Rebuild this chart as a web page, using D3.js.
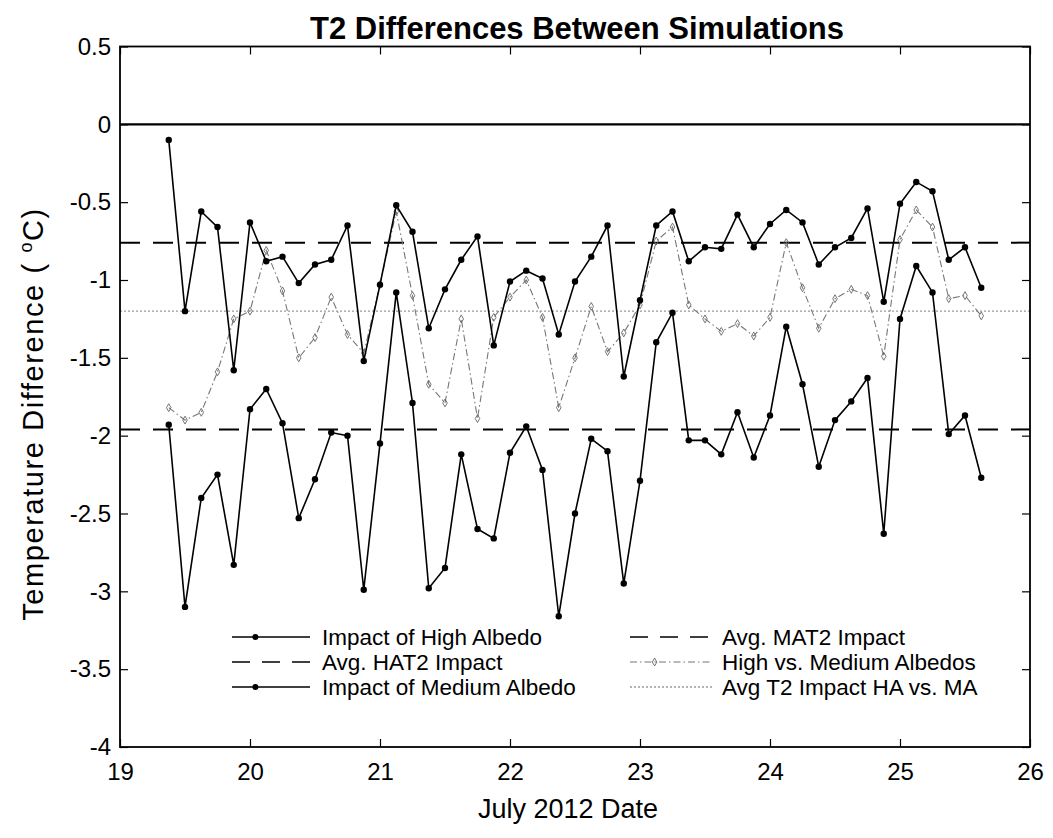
<!DOCTYPE html>
<html>
<head>
<meta charset="utf-8">
<script src="https://cdn.jsdelivr.net/npm/d3@7"></script>
<style>
  body { margin: 0; background: #fff; }
  svg text { font-family: "Liberation Sans", Arial, sans-serif; fill: #000; }
</style>
</head>
<body>
<svg id="chart" width="1053" height="838"></svg>
<script>
// July 2012 dates, 3-hourly steps
var dates = [19.375, 19.5, 19.625, 19.75, 19.875, 20, 20.125, 20.25, 20.375, 20.5,
  20.625, 20.75, 20.875, 21, 21.125, 21.25, 21.375, 21.5, 21.625, 21.75,
  21.875, 22, 22.125, 22.25, 22.375, 22.5, 22.625, 22.75, 22.875, 23,
  23.125, 23.25, 23.375, 23.5, 23.625, 23.75, 23.875, 24, 24.125, 24.25,
  24.375, 24.5, 24.625, 24.75, 24.875, 25, 25.125, 25.25, 25.375, 25.5, 25.625];

var highAlbedo = [-0.10, -1.20, -0.56, -0.66, -1.58, -0.63, -0.88, -0.85, -1.02, -0.90,
  -0.87, -0.65, -1.52, -1.03, -0.52, -0.69, -1.31, -1.06, -0.87, -0.72,
  -1.42, -1.01, -0.94, -0.99, -1.35, -1.01, -0.85, -0.65, -1.62, -1.13,
  -0.65, -0.56, -0.88, -0.79, -0.80, -0.58, -0.79, -0.64, -0.55, -0.63,
  -0.90, -0.79, -0.73, -0.54, -1.14, -0.51, -0.37, -0.43, -0.87, -0.79, -1.05];

var mediumAlbedo = [-1.93, -3.10, -2.40, -2.25, -2.83, -1.83, -1.70, -1.92, -2.53, -2.28,
  -1.98, -2.00, -2.99, -2.05, -1.08, -1.79, -2.98, -2.85, -2.12, -2.60,
  -2.66, -2.11, -1.94, -2.22, -3.16, -2.50, -2.02, -2.10, -2.95, -2.29,
  -1.40, -1.21, -2.03, -2.03, -2.12, -1.85, -2.14, -1.87, -1.30, -1.67,
  -2.20, -1.90, -1.78, -1.63, -2.63, -1.25, -0.91, -1.08, -1.99, -1.87, -2.27];

var highVsMedium = [-1.82, -1.90, -1.85, -1.59, -1.25, -1.20, -0.81, -1.07, -1.50, -1.37,
  -1.11, -1.35, -1.47, -1.03, -0.56, -1.10, -1.67, -1.79, -1.25, -1.89,
  -1.24, -1.11, -1.00, -1.24, -1.82, -1.50, -1.17, -1.46, -1.34, -1.16,
  -0.75, -0.66, -1.16, -1.25, -1.33, -1.28, -1.36, -1.24, -0.76, -1.05,
  -1.31, -1.12, -1.06, -1.10, -1.49, -0.74, -0.55, -0.66, -1.12, -1.10, -1.23];

var avgHAT2 = -0.76;
var avgMAT2 = -1.96;
var avgHAvsMA = -1.20;

var xTicks = [19, 20, 21, 22, 23, 24, 25, 26];
var yTicks = [0.5, 0, -0.5, -1, -1.5, -2, -2.5, -3, -3.5, -4];

var legendLabels = ["Impact of High Albedo", "Avg. HAT2 Impact", "Impact of Medium Albedo",
  "Avg. MAT2 Impact", "High vs. Medium Albedos", "Avg T2 Impact HA vs. MA"];

/********** layout **********/
var plot = { left: 120, right: 1030, top: 46.5, bottom: 747 };

var svg = d3.select("#chart");

var x = d3.scaleLinear().domain([19, 26]).range([plot.left, plot.right]);
var y = d3.scaleLinear().domain([-4, 0.5]).range([plot.bottom, plot.top]);

// line styles
var styles = {
  high:   { stroke: "#000", width: 1.6, dash: null },
  avgH:   { stroke: "#000", width: 2, dash: "20,13" },
  medium: { stroke: "#000", width: 1.6, dash: null },
  avgM:   { stroke: "#000", width: 2, dash: "20,13" },
  diff:   { stroke: "#777", width: 1.1, dash: "7,3,1.5,3" },
  avgD:   { stroke: "#999", width: 1.3, dash: "2,2" }
};

// zero line
svg.append("line")
  .attr("x1", x(19)).attr("x2", x(26))
  .attr("y1", y(0)).attr("y2", y(0))
  .attr("stroke", "#000").attr("stroke-width", 2.2);

// averages
function hline(v, st) {
  svg.append("line")
    .attr("x1", x(19)).attr("x2", x(26))
    .attr("y1", y(v)).attr("y2", y(v))
    .attr("stroke", st.stroke).attr("stroke-width", st.width)
    .attr("stroke-dasharray", st.dash);
}
hline(avgHAvsMA, styles.avgD);
hline(avgHAT2, styles.avgH);
hline(avgMAT2, styles.avgM);

var line = d3.line()
  .x(function(d) { return x(d[0]); })
  .y(function(d) { return y(d[1]); });

function series(vals, st, marker) {
  var pts = dates.map(function(d, i) { return [d, vals[i]]; });
  svg.append("path")
    .datum(pts)
    .attr("d", line)
    .attr("fill", "none")
    .attr("stroke", st.stroke)
    .attr("stroke-width", st.width)
    .attr("stroke-dasharray", st.dash);
  if (marker == "dot") {
    svg.append("g").selectAll("circle")
      .data(pts).enter().append("circle")
      .attr("cx", function(d) { return x(d[0]); })
      .attr("cy", function(d) { return y(d[1]); })
      .attr("r", 3.2)
      .attr("fill", "#000");
  } else {
    svg.append("g").selectAll("path")
      .data(pts).enter().append("path")
      .attr("transform", function(d) { return "translate(" + x(d[0]) + "," + y(d[1]) + ")"; })
      .attr("d", d3.symbol().type(d3.symbolDiamond).size(18))
      .attr("fill", "none")
      .attr("stroke", "#666")
      .attr("stroke-width", 0.9);
  }
}
series(highVsMedium, styles.diff, "diamond");
series(highAlbedo, styles.high, "dot");
series(mediumAlbedo, styles.medium, "dot");

/********** axes **********/
var fontSize = 24;

svg.append("g")
  .attr("transform", "translate(0," + plot.bottom + ")")
  .call(d3.axisBottom(x).tickValues(xTicks).tickSize(-8).tickSizeOuter(0).tickPadding(16)
    .tickFormat(function(d) { return d; }));
svg.append("g")
  .attr("transform", "translate(" + plot.left + ",0)")
  .call(d3.axisLeft(y).tickValues(yTicks).tickSize(-8).tickSizeOuter(0).tickPadding(9)
    .tickFormat(function(d) { return d; }));
svg.append("g")
  .attr("transform", "translate(0," + plot.top + ")")
  .call(d3.axisTop(x).tickValues(xTicks).tickSize(-8).tickSizeOuter(0).tickFormat(""));
svg.append("g")
  .attr("transform", "translate(" + plot.right + ",0)")
  .call(d3.axisRight(y).tickValues(yTicks).tickSize(-8).tickSizeOuter(0).tickFormat(""));

svg.selectAll(".domain").remove();
svg.selectAll(".tick line").attr("stroke", "#000").attr("stroke-width", 1.2);
svg.selectAll(".tick text")
  .style("font-size", fontSize + "px")
  .style("font-family", "'Liberation Sans', Arial, sans-serif")
  .attr("fill", "#000");

svg.append("rect")
  .attr("x", plot.left).attr("y", plot.top)
  .attr("width", plot.right - plot.left).attr("height", plot.bottom - plot.top)
  .attr("fill", "none").attr("stroke", "#000").attr("stroke-width", 1.8);

/********** labels **********/
svg.append("text")
  .attr("x", (plot.left + plot.right) / 2 + 2).attr("y", 39)
  .attr("text-anchor", "middle")
  .style("font-size", "31px").style("font-weight", "bold")
  .text("T2 Differences Between Simulations");

svg.append("text")
  .attr("x", (plot.left + plot.right) / 2 - 7).attr("y", 818)
  .attr("text-anchor", "middle")
  .style("font-size", "27px")
  .text("July 2012 Date");

var ylab = svg.append("text")
  .attr("transform", "translate(43," + 414 + ") rotate(-90)")
  .attr("text-anchor", "middle")
  .style("font-size", "29px")
  .style("letter-spacing", "1.6px");
ylab.append("tspan").text("Temperature Difference ( ");
ylab.append("tspan").attr("dy", -11).style("font-size", "18px").text("o");
ylab.append("tspan").attr("dy", 11).text("C)");

/********** legend **********/
var legendKeys = [
  { st: styles.high, marker: "dot", col: 0, row: 0 },
  { st: styles.avgH, marker: null, col: 0, row: 1 },
  { st: styles.medium, marker: "dot", col: 0, row: 2 },
  { st: styles.avgM, marker: null, col: 1, row: 0 },
  { st: styles.diff, marker: "diamond", col: 1, row: 1 },
  { st: styles.avgD, marker: null, col: 1, row: 2 }
];
var legCols = [{ x1: 232, x2: 310, tx: 322 }, { x1: 630, x2: 712, tx: 722 }];
var legRow0 = 637, legRowStep = 25;

legendKeys.forEach(function(k, i) {
  var c = legCols[k.col];
  var ly = legRow0 + k.row * legRowStep;
  var g = svg.append("g").attr("class", "legend-item");
  g.append("line")
    .attr("x1", c.x1).attr("x2", c.x2).attr("y1", ly).attr("y2", ly)
    .attr("stroke", k.st.stroke).attr("stroke-width", k.st.dash && k.st.stroke == "#000" ? 1.6 : k.st.width)
    .attr("stroke-dasharray", k.st.dash && k.st.stroke == "#000" ? "18,12" : k.st.dash);
  var mx = c.x1 + (c.x2 - c.x1) * 0.3;
  if (k.marker == "dot") {
    g.append("circle").attr("cx", mx).attr("cy", ly).attr("r", 3).attr("fill", "#000");
  } else if (k.marker == "diamond") {
    g.append("path")
      .attr("transform", "translate(" + mx + "," + ly + ")")
      .attr("d", d3.symbol().type(d3.symbolDiamond).size(18))
      .attr("fill", "none").attr("stroke", "#666").attr("stroke-width", 0.9);
  }
  g.append("text")
    .attr("x", c.tx).attr("y", ly)
    .attr("dy", "0.35em")
    .style("font-size", "22.5px")
    .text(legendLabels[i]);
});
</script>
</body>
</html>
